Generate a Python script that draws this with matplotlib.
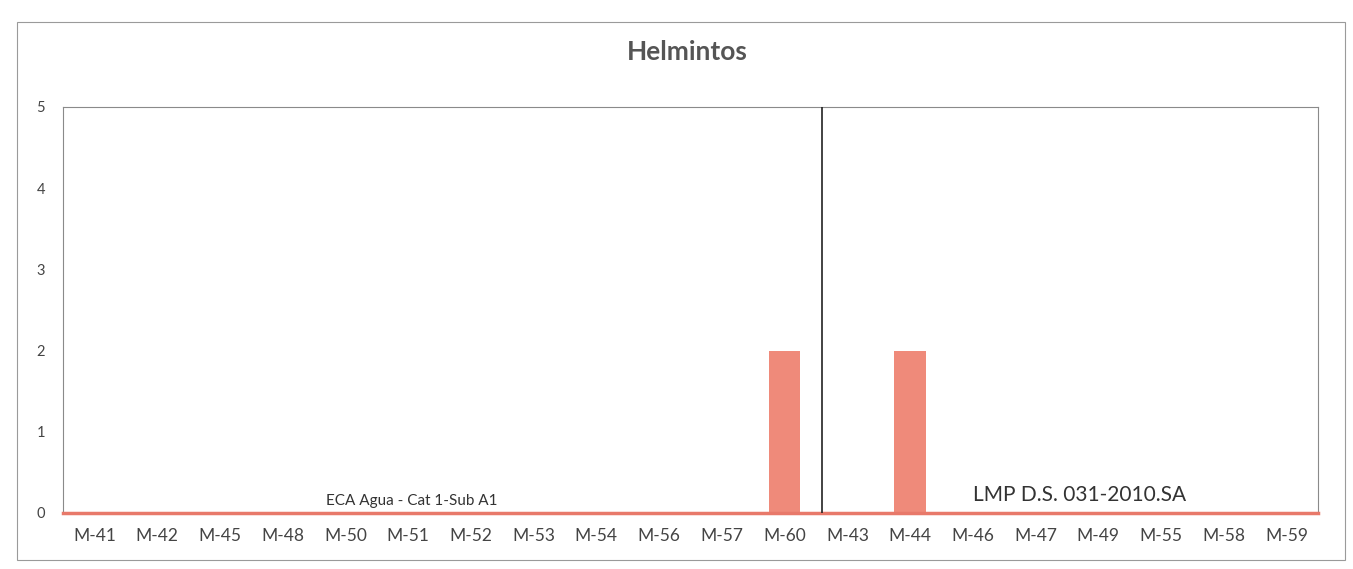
import matplotlib
matplotlib.use("Agg")
import matplotlib.pyplot as plt
from matplotlib.patches import Rectangle

categories = ["M-41", "M-42", "M-45", "M-48", "M-50", "M-51", "M-52", "M-53", "M-54",
              "M-56", "M-57", "M-60", "M-43", "M-44", "M-46", "M-47", "M-49", "M-55",
              "M-58", "M-59"]
helmintos = [0, 0, 0, 0, 0, 0, 0, 0, 0, 0, 0, 2, 0, 2, 0, 0, 0, 0, 0, 0]
limite = [0] * len(categories)
yticks = [0, 1, 2, 3, 4, 5]
separador = 11.6

plt.rcParams['font.family'] = ['Lato', 'DejaVu Sans']

W, H = 1353, 569
fig = plt.figure(figsize=(W / 100, H / 100), dpi=100)
fig.patch.set_facecolor('white')

# outer chart frame
fig.add_artist(Rectangle((17 / W, 1 - 560 / H), (1345 - 17) / W, (560 - 22) / H,
                         transform=fig.transFigure, fill=False, edgecolor='#9a9a9a',
                         linewidth=0.8))

left, right, top, bottom = 63, 1318, 107, 513
ax = fig.add_axes([left / W, 1 - bottom / H, (right - left) / W, (bottom - top) / H])

x = list(range(len(categories)))
ax.bar(x, helmintos, width=0.5, color='#ef8a7a', zorder=2)
ax.plot([-0.5] + x + [len(categories) - 0.5], [limite[0]] + limite + [limite[-1]],
        color='#e8796a', linewidth=2.5, clip_on=False, zorder=3)
ax.axvline(separador, color='#222222', linewidth=1.2, zorder=4)

ax.set_xlim(-0.5, len(categories) - 0.5)
ax.set_ylim(0, 5)
ax.set_yticks(yticks)
ax.set_yticklabels([str(v) for v in yticks], fontsize=10.5, color='#444444')
ax.set_xticks(x)
ax.set_xticklabels(categories, fontsize=12.5, color='#444444')
ax.tick_params(axis='both', length=0)
ax.tick_params(axis='y', pad=13)
ax.tick_params(axis='x', pad=11)
for s in ax.spines.values():
    s.set_color('#8a8a8a')
    s.set_linewidth(0.8)

ax.text(5.05, 0.06, "ECA Agua - Cat 1-Sub A1", fontsize=11, color='#333333',
        ha='center', va='bottom')
ax.text(15.7, 0.1, "LMP D.S. 031-2010.SA", fontsize=15, color='#333333',
        ha='center', va='bottom')

fig.text(687 / W, 1 - 52 / H, "Helmintos", fontsize=19, fontweight='bold',
         color='#555555', ha='center', va='center')

fig.savefig("out.png", dpi=100)
